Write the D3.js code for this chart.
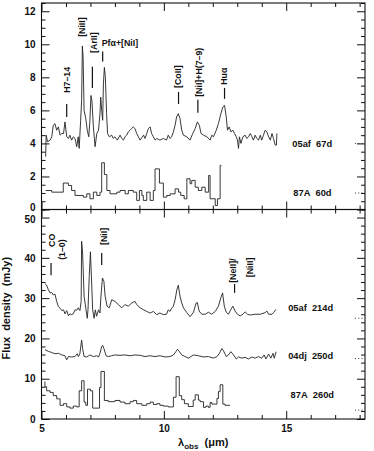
<!DOCTYPE html>
<html>
<head>
<meta charset="utf-8">
<script src="https://cdn.jsdelivr.net/npm/d3@7"></script>
<style>
  body { margin: 0; background: #fff; }
  svg text { font-family: "Liberation Sans", Arial, sans-serif; font-weight: bold; fill: #111; }
</style>
</head>
<body>
<svg id="chart" width="374" height="451"></svg>
<script>
'use strict';

// ---- data (wavelength in micron, flux density) ----
var xMajorTicks = [5, 10, 15];
var xMinorTicks = [6, 7, 8, 9, 11, 12, 13, 14, 16, 17, 18];
var xTickLabels = ['5', '10', '15'];

var topMajorTicks = [0, 2, 4, 6, 8, 10, 12];
var topMinorStep = 0.5;
var botMajorTicks = [0, 10, 20, 30, 40, 50];
var botMinorStep = 2;

// SN 2005af, day 67 (offset +4)
var sn05af67 = [[5.17,3.2],[5.19,4.5],[5.25,4.1],[5.35,4.2],[5.42,4.4],[5.48,5.1],[5.55,5.2],[5.62,4.8],[5.69,5.0],[5.76,4.5],[5.83,4.6],[5.9,4.6],[5.96,5.3],[6.03,4.4],[6.1,4.3],[6.16,4.5],[6.23,4.2],[6.3,4.4],[6.37,4.3],[6.44,3.8],[6.5,4.4],[6.54,3.7],[6.6,5.4],[6.64,6.6],[6.67,9.9],[6.7,9.2],[6.74,6.0],[6.81,5.5],[6.87,4.8],[6.93,4.4],[6.98,5.4],[7.02,6.9],[7.06,6.6],[7.12,5.0],[7.19,3.8],[7.26,4.6],[7.33,4.8],[7.39,5.8],[7.42,6.8],[7.46,6.0],[7.5,5.4],[7.53,7.6],[7.57,8.6],[7.61,8.0],[7.66,5.8],[7.7,4.6],[7.77,4.4],[7.87,4.5],[7.93,4.3],[8.0,4.4],[8.1,4.2],[8.21,4.5],[8.28,4.3],[8.35,4.2],[8.41,4.4],[8.48,4.5],[8.55,4.7],[8.62,4.8],[8.68,4.9],[8.75,5.0],[8.82,4.9],[8.89,4.6],[8.96,4.4],[9.03,4.2],[9.1,4.35],[9.17,4.5],[9.23,4.3],[9.3,4.6],[9.37,4.9],[9.44,5.0],[9.5,4.6],[9.57,4.4],[9.64,4.2],[9.71,4.3],[9.84,4.2],[9.98,4.3],[10.11,4.2],[10.18,4.5],[10.25,4.3],[10.32,4.4],[10.39,4.7],[10.46,5.1],[10.52,5.6],[10.59,5.8],[10.66,5.5],[10.73,4.8],[10.8,4.5],[10.94,4.4],[11.07,4.2],[11.18,4.6],[11.28,4.9],[11.37,5.3],[11.45,5.1],[11.52,4.6],[11.62,4.5],[11.76,4.4],[11.89,4.2],[11.96,4.5],[12.03,4.4],[12.14,4.8],[12.23,5.2],[12.33,5.8],[12.41,6.2],[12.48,6.3],[12.55,5.6],[12.6,4.8],[12.67,5.0],[12.74,4.7],[12.82,4.8],[12.89,4.6],[12.96,4.4],[13.01,4.2],[13.05,3.7],[13.09,4.4],[13.15,4.0],[13.23,4.4],[13.32,4.5],[13.39,4.3],[13.46,4.4],[13.53,4.6],[13.6,4.4],[13.66,4.2],[13.73,4.5],[13.8,4.3],[13.87,4.2],[13.94,4.5],[14.0,4.2],[14.07,4.5],[14.14,4.8],[14.21,4.7],[14.28,4.4],[14.35,4.2],[14.42,4.6],[14.48,4.3],[14.55,3.9],[14.6,3.9],[14.62,4.6]];

// SN 1987A, day 60 (binned, offset +1)
var sn87A60 = [[5.17,1.15],[5.42,1.05],[5.89,1.6],[6.1,1.45],[6.23,1.15],[6.37,0.85],[6.71,0.75],[6.85,0.95],[6.98,0.65],[7.12,1.05],[7.26,0.85],[7.39,1.05],[7.46,2.83],[7.57,2.12],[7.67,1.15],[7.8,0.95],[8.08,1.05],[8.21,1.15],[8.42,0.95],[8.55,1.15],[8.75,1.05],[8.89,0.55],[9.0,1.15],[9.1,0.85],[9.16,0.55],[9.3,1.05],[9.44,0.55],[9.57,1.15],[9.64,2.46],[9.82,1.6],[9.98,0.75],[10.12,0.85],[10.26,0.95],[10.46,1.25],[10.6,1.05],[10.69,0.85],[10.83,0.65],[10.94,1.86],[11.07,1.56],[11.14,1.76],[11.28,1.35],[11.41,1.15],[11.55,1.35],[11.69,1.05],[11.83,2.06],[11.89,0.65],[12.1,0.24],[12.19,0.65],[12.3,2.67],[12.35,2.67]];

// SN 2005af, day 214 (offset +25)
var sn05af214 = [[5.14,33.6],[5.21,33.2],[5.28,32.1],[5.35,31.3],[5.42,31.4],[5.48,30.8],[5.55,31.0],[5.62,29.2],[5.69,27.9],[5.76,27.5],[5.83,26.9],[5.9,27.1],[5.96,26.1],[6.03,26.9],[6.1,25.6],[6.16,26.1],[6.23,25.9],[6.3,26.1],[6.37,27.1],[6.44,27.0],[6.5,27.6],[6.57,26.9],[6.62,29.2],[6.64,44.1],[6.68,41.2],[6.74,30.5],[6.82,27.1],[6.87,25.0],[6.9,27.1],[6.95,35.3],[7.0,41.5],[7.04,35.3],[7.09,27.1],[7.15,25.0],[7.2,27.1],[7.25,25.5],[7.33,27.1],[7.39,26.3],[7.43,30.5],[7.49,35.0],[7.55,34.2],[7.6,30.5],[7.68,28.0],[7.77,27.6],[7.87,29.6],[8.0,29.2],[8.14,28.4],[8.28,27.6],[8.41,28.4],[8.55,28.0],[8.69,28.8],[8.82,29.2],[8.89,28.4],[9.03,27.6],[9.17,27.1],[9.3,26.7],[9.44,26.3],[9.57,26.7],[9.71,25.9],[9.84,26.3],[9.98,25.9],[10.11,26.0],[10.18,27.1],[10.25,26.7],[10.32,27.5],[10.39,28.0],[10.46,29.6],[10.53,32.0],[10.59,33.2],[10.66,30.5],[10.73,28.8],[10.8,27.6],[10.94,26.4],[11.07,25.4],[11.21,26.5],[11.32,28.8],[11.37,28.9],[11.44,26.8],[11.55,26.0],[11.69,26.0],[11.82,26.5],[11.96,26.0],[12.1,26.7],[12.23,28.0],[12.33,30.1],[12.4,31.3],[12.47,28.0],[12.55,26.5],[12.64,26.0],[12.74,27.2],[12.82,28.0],[12.91,26.8],[13.01,26.0],[13.12,25.6],[13.23,26.0],[13.32,26.6],[13.42,26.0],[13.53,25.8],[13.73,26.0],[13.94,26.0],[14.14,26.4],[14.21,26.8],[14.28,26.0],[14.42,26.0],[14.48,26.4],[14.58,27.2]];

// SN 2004dj, day 250 (offset +15)
var sn04dj250 = [[5.14,17.2],[5.28,16.8],[5.42,16.5],[5.55,16.2],[5.69,16.3],[5.83,15.9],[5.96,15.7],[6.03,14.7],[6.1,15.5],[6.23,15.4],[6.37,15.5],[6.46,16.2],[6.51,15.5],[6.57,16.3],[6.64,19.6],[6.68,17.5],[6.74,15.5],[6.85,15.4],[6.98,15.9],[7.12,15.5],[7.26,15.7],[7.33,15.4],[7.39,16.3],[7.46,18.0],[7.5,18.3],[7.55,17.5],[7.64,15.7],[7.73,15.5],[7.87,15.7],[8.0,15.9],[8.21,15.8],[8.41,15.9],[8.62,15.7],[8.82,15.9],[9.03,15.8],[9.23,15.5],[9.44,15.7],[9.64,15.5],[9.84,15.7],[10.05,15.4],[10.25,15.5],[10.39,15.9],[10.49,16.7],[10.56,17.3],[10.64,16.7],[10.73,15.9],[10.87,15.5],[11.0,15.1],[11.21,15.9],[11.41,15.7],[11.62,15.4],[11.82,15.5],[12.03,15.1],[12.17,15.5],[12.27,16.3],[12.37,17.5],[12.44,16.9],[12.55,15.5],[12.64,15.9],[12.74,16.7],[12.85,15.9],[12.96,14.9],[13.05,15.4],[13.19,15.1],[13.32,15.3],[13.46,14.9],[13.6,15.4],[13.73,15.1],[13.87,15.5],[14.0,15.1],[14.1,15.9],[14.17,14.9],[14.28,16.1],[14.37,15.1],[14.46,16.3],[14.51,15.1],[14.59,16.7]];

// SN 1987A, day 260 (binned, offset +2)
var sn87A260 = [[5.14,9.3],[5.14,8.0],[5.21,7.0],[5.35,6.6],[5.48,5.8],[5.62,5.0],[5.76,3.4],[5.9,3.8],[6.03,3.0],[6.16,2.7],[6.3,3.2],[6.44,3.0],[6.54,7.0],[6.64,9.5],[6.74,4.2],[6.81,3.4],[6.88,7.4],[7.0,7.0],[7.09,2.7],[7.37,7.8],[7.43,11.8],[7.57,4.6],[7.73,4.3],[8.0,4.6],[8.21,4.2],[8.41,3.8],[8.62,4.3],[8.75,4.6],[8.89,3.8],[9.1,3.4],[9.3,3.8],[9.44,4.2],[9.57,3.6],[9.71,3.8],[9.84,3.4],[9.98,3.2],[10.18,3.0],[10.39,5.4],[10.5,10.5],[10.63,5.8],[10.73,4.8],[10.84,3.8],[11.0,3.1],[11.2,4.7],[11.28,6.0],[11.41,4.7],[11.48,4.3],[11.62,2.9],[11.72,3.2],[11.82,2.9],[11.89,4.1],[11.96,3.7],[12.17,5.1],[12.23,6.8],[12.3,8.5],[12.41,3.7],[12.5,3.4],[12.71,3.4]];

// spectrum labels: name, zero level, label level
var topSeries = [
  {name: '05af\u00a0 67d', data: sn05af67, step: false, zero: 4, labelAt: 4, labelX: 15.25},
  {name: '87A\u00a0 60d', data: sn87A60, step: true, zero: 1, labelAt: 1, labelX: 15.29}
];
var botSeries = [
  {name: '05af\u00a0 214d', data: sn05af214, step: false, zero: 25, labelAt: 27.7, labelX: 15.08},
  {name: '04dj\u00a0 250d', data: sn04dj250, step: false, zero: 15, labelAt: 15.7, labelX: 15.08},
  {name: '87A\u00a0 260d', data: sn87A260, step: true, zero: 2.2, labelAt: 6, labelX: 15.18}
];

// line identifications: text column (w, v), marker line (lw, l0..l1)
var topLines = [
  {text: 'H7\u201314', w: 6.03, v: 7.06, lw: 6.03, l0: 6.39, l1: 5.6},
  {text: '[NiII]', w: 6.64, v: 10.45},
  {text: '[ArII]', w: 7.16, v: 9.48, lw: 7.08, l0: 8.64, l1: 7.36},
  {text: 'Pf\u03b1+[NiI]', w: 7.46, v: 9.9, lw: 7.5, l0: 9.56, l1: 8.96, flat: true},
  {text: '[CoII]', w: 10.57, v: 7.36, lw: 10.6, l0: 7.12, l1: 6.39},
  {text: '[NiI]+H(7\u20139)', w: 11.45, v: 6.82, lw: 11.39, l0: 6.64, l1: 5.85},
  {text: 'Hu\u03b1', w: 12.44, v: 7.55, lw: 12.48, l0: 7.36, l1: 6.7}
];
var botLines = [
  {text: 'CO', w: 5.42, v: 42.7, lw: 5.39, l0: 38.7, l1: 35.7},
  {text: '(1\u20130)', w: 5.83, v: 39.5},
  {text: '[NiI]', w: 7.57, v: 43.2, lw: 7.46, l0: 41.2, l1: 38.2},
  {text: '[NeII]/', w: 12.84, v: 33.8, lw: 12.89, l0: 33.5, l1: 31.3},
  {text: '[NiII]', w: 13.53, v: 35.2}
];

// ---- layout ----
var svg = d3.select('#chart');
var left = 41.5, right = 365;

var x = d3.scaleLinear().domain([5, 18.22]).range([left, right]);
var yTop = d3.scaleLinear().domain([0, 12.5]).range([209.5, 3]);
var yBot = d3.scaleLinear().domain([0, 52]).range([419, 209.5]);

var panels = [
  {y: yTop, majors: topMajorTicks, minorStep: topMinorStep, series: topSeries, lines: topLines, xLabels: false},
  {y: yBot, majors: botMajorTicks, minorStep: botMinorStep, series: botSeries, lines: botLines, xLabels: true}
];

function noDomain(g) { g.select('.domain').remove(); }

panels.forEach(function (p, pi) {
  var y = p.y;
  var y0 = y.range()[0], y1 = y.range()[1];
  var dom = y.domain();
  var minors = d3.range(dom[0], dom[1] + 1e-6, p.minorStep).filter(function (v) {
    return p.majors.indexOf(v) < 0;
  });
  var g = svg.append('g');

  // frame
  g.append('rect')
    .attr('x', left).attr('y', y1)
    .attr('width', right - left).attr('height', y0 - y1)
    .attr('fill', 'none').attr('stroke', '#111').attr('stroke-width', 1.1);

  // inward ticks on all four sides
  g.append('g').attr('transform', 'translate(' + left + ',0)')
    .call(d3.axisLeft(y).tickValues(minors).tickSize(-4).tickFormat(''))
    .call(noDomain);
  var yl = g.append('g').attr('transform', 'translate(' + left + ',0)')
    .call(d3.axisLeft(y).tickValues(p.majors).tickSize(-8).tickPadding(6).tickFormat(d3.format('d')))
    .call(noDomain);
  // the shared 0 / 50 labels sit close together at the panel join
  yl.selectAll('.tick text')
    .filter(function (d) { return pi === 0 ? d === 0 : d === 50; })
    .attr('dy', pi === 0 ? '0.1em' : '0.5em');
  g.append('g').attr('transform', 'translate(' + right + ',0)')
    .call(d3.axisRight(y).tickValues(minors).tickSize(-4).tickFormat(''))
    .call(noDomain);
  g.append('g').attr('transform', 'translate(' + right + ',0)')
    .call(d3.axisRight(y).tickValues(p.majors).tickSize(-8).tickFormat(''))
    .call(noDomain);

  g.append('g').attr('transform', 'translate(0,' + y0 + ')')
    .call(d3.axisBottom(x).tickValues(xMinorTicks).tickSize(-4).tickFormat(''))
    .call(noDomain);
  g.append('g').attr('transform', 'translate(0,' + y0 + ')')
    .call(d3.axisBottom(x).tickValues(xMajorTicks).tickSize(-8).tickPadding(6)
      .tickFormat(function (d, i) { return p.xLabels ? xTickLabels[i] : ''; }))
    .call(noDomain);
  g.append('g').attr('transform', 'translate(0,' + y1 + ')')
    .call(d3.axisTop(x).tickValues(xMinorTicks).tickSize(-4).tickFormat(''))
    .call(noDomain);
  g.append('g').attr('transform', 'translate(0,' + y1 + ')')
    .call(d3.axisTop(x).tickValues(xMajorTicks).tickSize(-8).tickFormat(''))
    .call(noDomain);

  g.selectAll('.tick line').attr('stroke', '#111').attr('stroke-width', 1);
  g.selectAll('.tick text')
    .attr('fill', '#111')
    .style('font-family', '"Liberation Sans", Arial, sans-serif')
    .style('font-weight', 'bold')
    .style('font-size', '10px');

  // spectra
  p.series.forEach(function (s) {
    var line = d3.line()
      .x(function (d) { return x(d[0]); })
      .y(function (d) { return y(d[1]); })
      .curve(s.step ? d3.curveStepAfter : d3.curveLinear);
    g.append('path')
      .datum(s.data)
      .attr('d', line)
      .attr('fill', 'none')
      .attr('stroke', '#222')
      .attr('stroke-width', 0.9)
      .attr('stroke-linejoin', 'round');

    // zero-level marker at the right edge
    g.append('line')
      .attr('x1', x(17.81)).attr('x2', right)
      .attr('y1', y(s.zero)).attr('y2', y(s.zero))
      .attr('stroke', '#333').attr('stroke-width', 1)
      .attr('stroke-dasharray', '1,2.3');

    g.append('text')
      .attr('x', x(s.labelX))
      .attr('y', y(s.labelAt))
      .attr('dy', '0.35em')
      .style('font-size', '9.3px')
      .text(s.name);
  });

  // line identifications
  p.lines.forEach(function (l) {
    var t = g.append('text')
      .style('font-size', '8.8px')
      .text(l.text);
    if (l.flat) {
      t.attr('x', x(l.w)).attr('y', y(l.v));
    } else {
      t.attr('transform', 'translate(' + x(l.w) + ',' + y(l.v) + ') rotate(-90)')
        .attr('dy', '0.35em');
    }
    if (l.lw !== undefined) {
      g.append('line')
        .attr('x1', x(l.lw)).attr('x2', x(l.lw))
        .attr('y1', y(l.l0)).attr('y2', y(l.l1))
        .attr('stroke', '#111').attr('stroke-width', 1.2);
    }
  });
});

// axis titles
svg.append('text')
  .attr('transform', 'translate(6,' + ((yBot(0) + yBot(52)) / 2 - 6) + ') rotate(-90)')
  .attr('text-anchor', 'middle')
  .attr('dy', '0.35em')
  .style('font-size', '11px')
  .text('Flux\u00a0 density\u00a0 (mJy)');

var xt = svg.append('text')
  .attr('x', (x(5) + x(18.22)) / 2)
  .attr('y', 446)
  .attr('text-anchor', 'middle')
  .style('font-size', '11px');
xt.append('tspan').text('\u03bb');
xt.append('tspan').attr('dy', 3).style('font-size', '8px').text('obs');
xt.append('tspan').attr('dy', -3).text('\u00a0 (\u03bcm)');
</script>
</body>
</html>
